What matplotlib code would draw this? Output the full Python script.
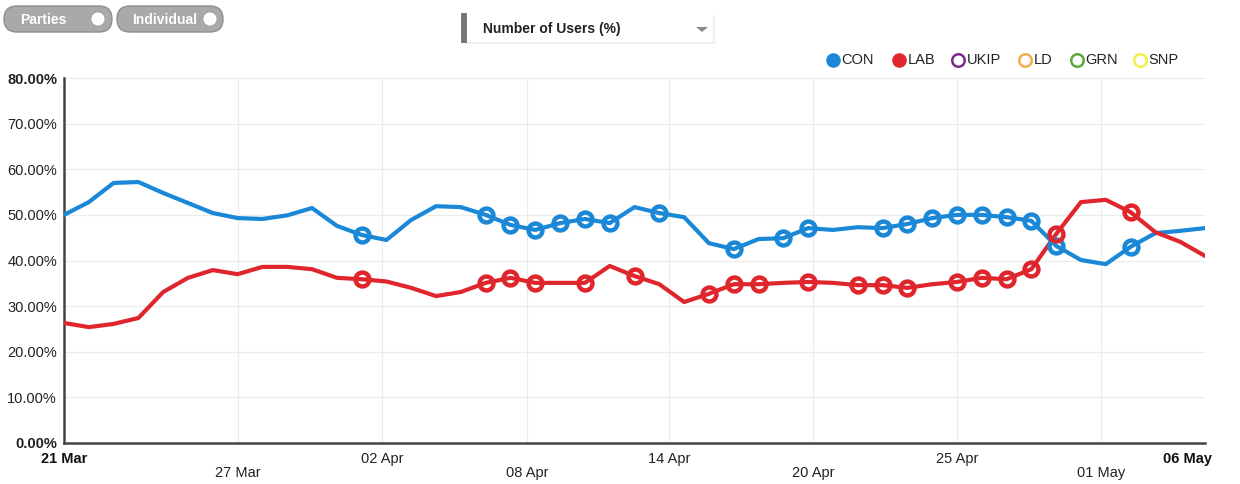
import matplotlib
matplotlib.use('Agg')
import matplotlib.pyplot as plt
from matplotlib.patches import FancyBboxPatch, Rectangle, Polygon, Circle
import numpy as np

plt.rcParams['font.family'] = ['Liberation Sans', 'DejaVu Sans']

# daily values, 21 Mar .. 06 May
con = [50.0, 52.8, 57.0, 57.2, 54.8, 52.6, 50.4, 49.3, 49.1, 49.9,
       51.5, 47.6, 45.6, 44.5, 48.9, 51.9, 51.7, 50.0, 47.8, 46.7,
       48.2, 49.1, 48.2, 51.7, 50.4, 49.5, 43.8, 42.5, 44.7, 44.9,
       47.1, 46.7, 47.3, 47.1, 48.0, 49.3, 50.0, 50.0, 49.5, 48.7,
       43.2, 40.1, 39.2, 43.0, 46.0, 46.5, 47.1]
lab = [26.3, 25.4, 26.1, 27.4, 33.1, 36.2, 37.9, 37.0, 38.6, 38.6,
       38.1, 36.2, 35.9, 35.4, 34.0, 32.2, 33.1, 35.1, 36.2, 35.1,
       35.1, 35.1, 38.8, 36.6, 34.8, 30.9, 32.7, 34.8, 34.8, 35.1,
       35.3, 35.1, 34.6, 34.6, 34.0, 34.8, 35.3, 36.2, 35.9, 38.1,
       45.8, 52.8, 53.3, 50.6, 46.2, 44.1, 41.0]
# days that carry a ring marker
con_marks = [12, 17, 18, 19, 20, 21, 22, 24, 27, 29, 30, 33, 34, 35, 36,
             37, 38, 39, 40, 43]
lab_marks = [12, 17, 18, 19, 21, 23, 26, 27, 28, 30, 32, 33, 34, 36, 37,
             38, 39, 40, 43]

tick_days = [7.02, 12.82, 18.67, 24.40, 30.20, 36.01, 41.81]
tick_labels = ['27 Mar', '02 Apr', '08 Apr', '14 Apr', '20 Apr', '25 Apr', '01 May']
start_label, end_label = '21 Mar', '06 May'

parties = ['CON', 'LAB', 'UKIP', 'LD', 'GRN', 'SNP']
party_colors = ['#1a88d6', '#e0262d', '#7d2a8e', '#f3b04a', '#5caa3e', '#f5ef4a']

W, H = 1240, 484
fig = plt.figure(figsize=(W / 100, H / 100), dpi=100)
L, R, T, B = 64, 1205, 78, 443
ax = fig.add_axes([L / W, 1 - B / H, (R - L) / W, (B - T) / H])

days = np.arange(len(con))
lw = 3.0
for vals, marks, col in [(con, con_marks, party_colors[0]),
                         (lab, lab_marks, party_colors[1])]:
    ax.plot(days, vals, color=col, lw=lw, solid_joinstyle='round',
            solid_capstyle='round', zorder=3)
    ax.plot(days[marks], np.array(vals)[marks], ls='none', marker='o',
            ms=10, mfc='none', mec=col, mew=3.2, zorder=4)

ax.set_xlim(0, len(con) - 1)
ax.set_ylim(0, 80)
ax.set_yticks(np.arange(0, 81, 10))
ax.set_yticklabels(['%.2f%%' % v for v in np.arange(0, 81, 10)])
for lbl in ax.get_yticklabels():
    lbl.set_fontsize(10.5)
    lbl.set_color('#222222')
ax.get_yticklabels()[0].set_fontweight('bold')
ax.get_yticklabels()[-1].set_fontweight('bold')
ax.tick_params(axis='y', length=0, pad=5)
ax.set_xticks(tick_days)
ax.set_xticklabels([])
ax.tick_params(axis='x', length=0)
ax.grid(True, color='#ececec', lw=0.8, zorder=0)
for s in ['top', 'right']:
    ax.spines[s].set_visible(False)
for s in ['left', 'bottom']:
    ax.spines[s].set_color('#444444')
    ax.spines[s].set_linewidth(1.8)

# staggered date labels
xt = ax.get_xaxis_transform()
for i, (d, t) in enumerate(zip(tick_days, tick_labels)):
    ax.text(d, -0.045 if i % 2 else -0.082, t, transform=xt, ha='center',
            va='center', fontsize=10.5, color='#222222')
ax.text(0, -0.045, start_label, transform=xt, ha='center', va='center',
        fontsize=10.5, fontweight='bold', color='#111111')
ax.text(len(con) - 1 + 0.3, -0.045, end_label, transform=xt, ha='right',
        va='center', fontsize=10.5, fontweight='bold', color='#111111')

# header overlay in pixel units
ov = fig.add_axes([0, 0, 1, 1], zorder=-1)
ov.set_xlim(0, W)
ov.set_ylim(H, 0)
ov.axis('off')

for x0, x1, label, cx in [(4, 112, 'Parties', 98), (117, 223, 'Individual', 210)]:
    ov.add_patch(FancyBboxPatch((x0, 6), x1 - x0, 26,
                                boxstyle='round,pad=0,rounding_size=13',
                                fc='#a9a9a9', ec='#8e8e8e', lw=1))
    ov.add_patch(Circle((cx, 19), 6.5, fc='white', ec='none'))
    ov.text(x0 + 16 if label == 'Parties' else x0 + 15, 19.5, label,
            color='white', fontsize=10, fontweight='bold', va='center')

ov.add_patch(Rectangle((465, 15), 250, 29, fc='#eeeeee', ec='none'))
ov.add_patch(Rectangle((462, 13), 251, 29, fc='white', ec='none'))
ov.add_patch(Rectangle((461, 13), 6, 30, fc='#777777', ec='none'))
ov.text(483, 29, 'Number of Users (%)', fontsize=10, fontweight='bold',
        color='#222222', va='center')
ov.add_patch(Polygon([(696, 27), (708, 27), (702, 32)], fc='#8a8a8a', ec='none'))

leg_x = [833, 899, 958, 1025, 1077, 1140]
for i, (name, col, x) in enumerate(zip(parties, party_colors, leg_x)):
    if i < 2:
        ov.plot(x, 60, 'o', ms=10.5, mfc=col, mec=col, mew=0)
    else:
        ov.plot(x, 60, 'o', ms=9, mfc='none', mec=col, mew=1.8)
    ov.text(x + 8.5, 60, name, fontsize=10.5, va='center', color='#222222')

fig.savefig('out.png', dpi=100)
